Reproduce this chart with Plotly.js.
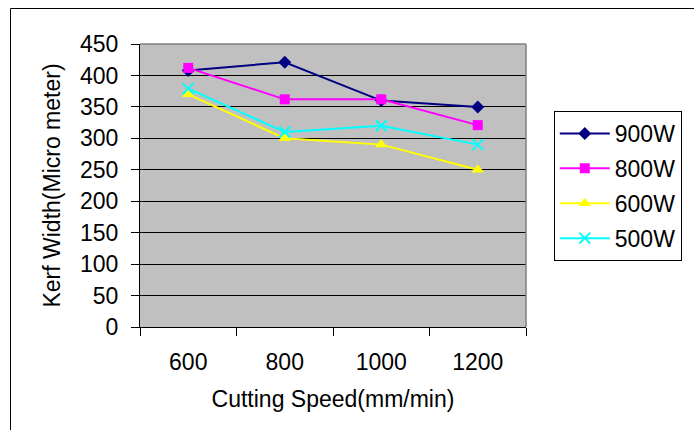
<!DOCTYPE html>
<html>
<head>
<meta charset="utf-8">
<script src="https://cdn.plot.ly/plotly-3.0.1.min.js"></script>
<style>html,body{margin:0;padding:0;background:#fff;}#chart{width:694px;height:430px;}</style>
</head>
<body>
<div id="chart"></div>
<script>
const speeds = ['600', '800', '1000', '1200'];
const seriesNames = ['900W', '800W', '600W', '500W'];
const w900 = [408, 421, 360, 350];
const w800 = [412, 362, 362, 321];
const w600 = [370, 300, 290, 250];
const w500 = [379, 310, 320, 290];
const yTicks = [0, 50, 100, 150, 200, 250, 300, 350, 400, 450];

const FONT = 'Liberation Sans, Arial, sans-serif';
const FS = 23;
const styles = [
  {color: '#000080', symbol: 'diamond', size: 10},
  {color: '#FF00FF', symbol: 'square', size: 10},
  {color: '#FFFF00', symbol: 'triangle-up', size: 11},
  {color: '#00FFFF', symbol: 'x-thin', size: 11}
];
const values = [w900, w800, w600, w500];
const traces = values.map((v, i) => ({
  type: 'scatter', mode: 'lines+markers',
  x: speeds, y: v, name: seriesNames[i], legendgroup: 'g' + i,
  line: {color: styles[i].color, width: 2},
  marker: {color: styles[i].color, symbol: styles[i].symbol, size: styles[i].size,
           line: {color: styles[i].color, width: styles[i].symbol === 'x-thin' ? 2 : 0}}
}));

const L = 140, R = 529, T = 44, B = 327;
const pw = R - L, ph = B - T;
const layout = {
  width: 694, height: 430,
  margin: {l: L, r: 694 - R, t: T, b: 430 - B, pad: 0},
  paper_bgcolor: '#ffffff', plot_bgcolor: '#C0C0C0',
  font: {family: FONT, size: FS, color: '#000'},
  showlegend: true,
  legend: {
    x: (557 - L) / pw, y: (B - 111) / ph, xanchor: 'left', yanchor: 'top',
    bgcolor: '#ffffff', bordercolor: '#000', borderwidth: 1,
    font: {family: FONT, size: FS, color: '#000'},
    traceorder: 'grouped', tracegroupgap: 2, itemwidth: 50
  },
  xaxis: {
    type: 'category', categoryarray: speeds, range: [-0.5, 3.5],
    tickson: 'boundaries', ticks: 'outside', ticklen: 8, tickcolor: '#000', tickwidth: 1,
    ticklabelstandoff: 14,
    showline: true, linecolor: '#000', linewidth: 1, showgrid: false, zeroline: false,
    tickfont: {family: FONT, size: FS, color: '#000'},
    title: {text: 'Cutting Speed(mm/min)', font: {family: FONT, size: FS, color: '#000'}, standoff: 17},
    automargin: false
  },
  yaxis: {
    range: [0, 450], tickvals: yTicks, ticktext: yTicks.map(String),
    ticks: 'outside', ticklen: 8, tickcolor: '#000', tickwidth: 1,
    ticklabelstandoff: 8,
    showline: true, linecolor: '#000', linewidth: 1,
    showgrid: true, gridcolor: '#000', gridwidth: 1, zeroline: false,
    tickfont: {family: FONT, size: FS, color: '#000'},
    title: {text: 'Kerf Width(Micro meter)', font: {family: FONT, size: FS, color: '#000'}, standoff: 12},
    automargin: false
  },
  shapes: [
    {type: 'line', xref: 'paper', yref: 'paper', x0: 0, x1: 1, y0: 1, y1: 1, line: {color: '#808080', width: 1.5}},
    {type: 'line', xref: 'paper', yref: 'paper', x0: 1, x1: 1, y0: 0, y1: 1, line: {color: '#808080', width: 1.5}},
    {type: 'rect', xref: 'paper', yref: 'paper', x0: (9.5 - L) / pw, x1: 2, y0: -1, y1: (B - 8.5) / ph,
     line: {color: '#000', width: 1}, fillcolor: 'rgba(0,0,0,0)', layer: 'below'}
  ]
};
Plotly.newPlot('chart', traces, layout, {displayModeBar: false, staticPlot: true});
</script>
</body>
</html>
